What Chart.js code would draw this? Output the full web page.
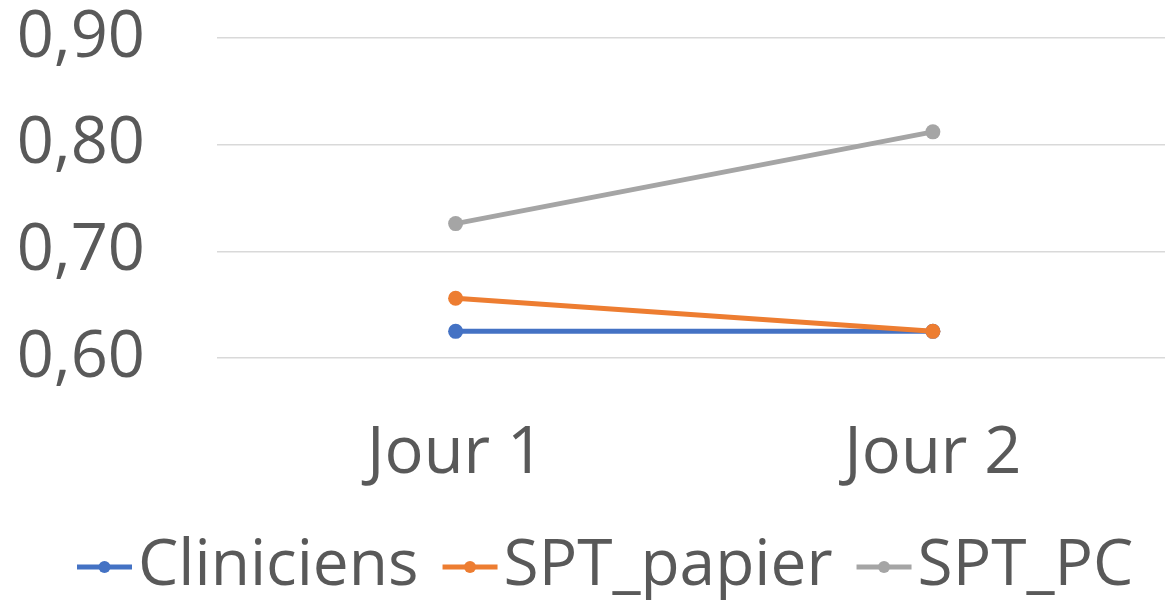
<!DOCTYPE html>
<html>
<head>
<meta charset="utf-8">
<script src="https://cdn.jsdelivr.net/npm/chart.js@4"></script>
<style>
  html, body { margin: 0; padding: 0; background: #fff; overflow: hidden; }
  #wrap { width: 1179px; height: 602px; }
</style>
</head>
<body>
<div id="wrap"><canvas id="chart"></canvas></div>
<script>
const jours = ["Jour 1", "Jour 2"];
const cliniciens = [0.625, 0.625];
const sptPapier = [0.656, 0.625];
const sptPC = [0.726, 0.812];
const yTicks = [0.60, 0.70, 0.80, 0.90];

const FONT = "'Open Sans', sans-serif";
const TEXT = "#595959";

// legend drawn like Excel's (short line with a dot in the middle)
const excelLegend = {
  id: "excelLegend",
  afterDraw(chart) {
    const ctx = chart.ctx;
    ctx.save();
    ctx.font = "64px " + FONT;
    let x = 77;
    const y = 567;
    chart.data.datasets.forEach(ds => {
      ctx.strokeStyle = ds.borderColor;
      ctx.lineWidth = 5;
      ctx.beginPath();
      ctx.moveTo(x, y);
      ctx.lineTo(x + 55, y);
      ctx.stroke();
      ctx.fillStyle = ds.borderColor;
      ctx.beginPath();
      ctx.arc(x + 27.5, y, 6, 0, Math.PI * 2);
      ctx.fill();
      ctx.fillStyle = TEXT;
      ctx.textBaseline = "middle";
      ctx.textAlign = "left";
      ctx.fillText(ds.label, x + 61, y);
      x += 61 + ctx.measureText(ds.label).width + 24;
    });
    ctx.restore();
  }
};

const lineStyle = { borderWidth: 5, pointRadius: 7.5, pointHoverRadius: 7.5, pointBorderWidth: 0, tension: 0 };

const ctx = document.getElementById("chart").getContext("2d");
new Chart(ctx, {
  type: "line",
  data: {
    labels: jours,
    datasets: [
      { label: "Cliniciens", data: cliniciens, borderColor: "#4472C4", backgroundColor: "#4472C4", order: 3, ...lineStyle },
      { label: "SPT_papier", data: sptPapier, borderColor: "#ED7D31", backgroundColor: "#ED7D31", order: 2, ...lineStyle },
      { label: "SPT_PC", data: sptPC, borderColor: "#A5A5A5", backgroundColor: "#A5A5A5", order: 1, ...lineStyle }
    ]
  },
  options: {
    responsive: true,
    maintainAspectRatio: false,
    animation: false,
    devicePixelRatio: 1,
    layout: { padding: { top: 38, bottom: 109, left: 0, right: 0 } },
    scales: {
      x: {
        offset: true,
        afterFit(scale) {
          scale.height = 135;
          scale.paddingLeft = 0;
          scale.paddingRight = 0;
        },
        grid: { display: false, drawTicks: false },
        border: { display: false },
        ticks: { color: TEXT, font: { family: FONT, size: 65 }, padding: 57, autoSkip: false, maxRotation: 0 }
      },
      y: {
        min: 0.6,
        max: 0.9,
        afterFit(scale) {
          scale.width = 217;
          scale.paddingTop = 0;
          scale.paddingBottom = 0;
        },
        afterBuildTicks(scale) { scale.ticks = yTicks.map(v => ({ value: v })); },
        grid: { color: "#D9D9D9", lineWidth: 1.5, drawTicks: false },
        border: { display: false },
        ticks: {
          color: TEXT,
          font: { family: FONT, size: 65 },
          padding: 72,
          autoSkip: false,
          callback: v => v.toFixed(2).replace(".", ",")
        }
      }
    },
    plugins: {
      legend: { display: false },
      tooltip: { enabled: false }
    }
  },
  plugins: [excelLegend]
});
</script>
</body>
</html>
